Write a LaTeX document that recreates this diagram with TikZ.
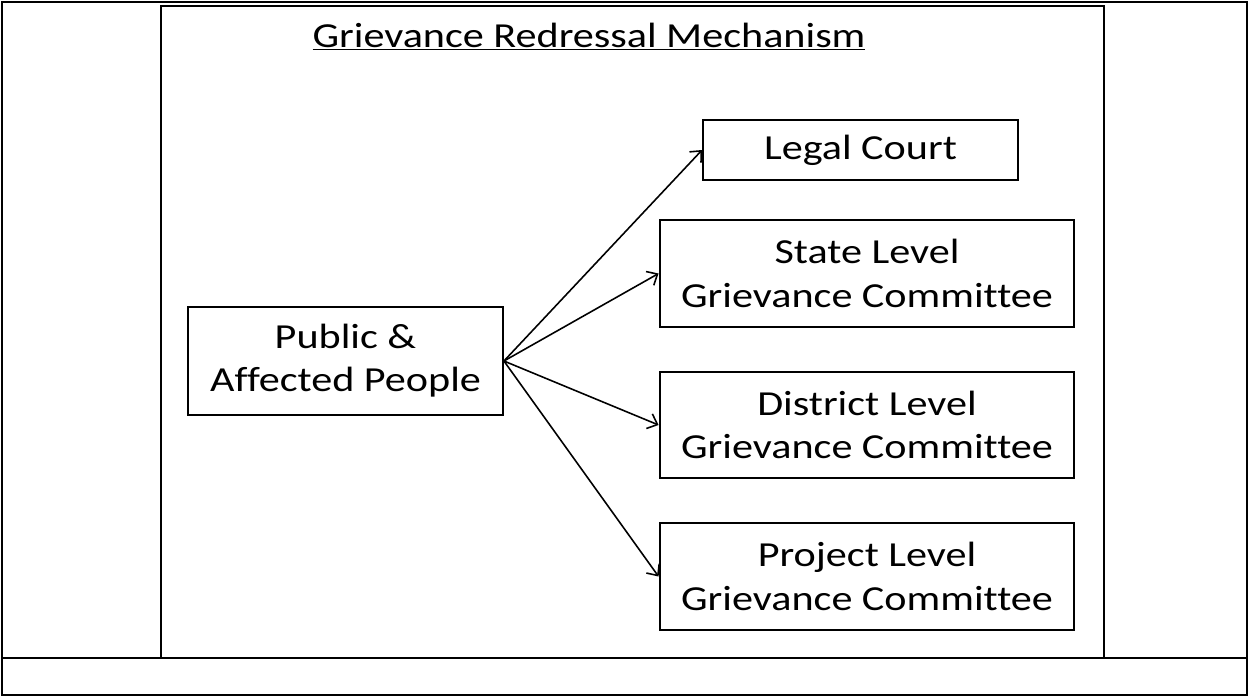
\documentclass[tikz,border=0pt]{standalone}
\usepackage{fontspec}
\setmainfont{Carlito}[FakeStretch=1.2, Ligatures=NoCommon]
\usetikzlibrary{arrows.meta}
\begin{document}
\begin{tikzpicture}[x=0.02cm, y=-0.02cm,
    nodes={font=\fontsize{20}{24.6}\selectfont, align=center, inner sep=0pt},
    box/.style={draw, line width=1.1pt, minimum width=8.3cm, minimum height=2.13cm},
    arr/.style={-{Straight Barb[length=5pt, width=9pt]}, line width=0.9pt}]
            \useasboundingbox (0,0) rectangle (1249,698);
            \draw[line width=1.6pt] (2,2) rectangle (1247,695);
            \draw[line width=1.6pt] (2,658) -- (1247,658);
            \draw[line width=1.2pt] (161,658) -- (161,6) -- (1104,6) -- (1104,658);
            \node[anchor=base] (title) at (589,47) {\underline{Grievance Redressal Mechanism}};
            \node[box, minimum width=6.3cm, minimum height=2.16cm] (pub) at (345.5,361) {Public \&\\Affected People};
            \node[box, minimum width=6.3cm, minimum height=1.2cm] (legal) at (860.5,150) {Legal Court};
            \node[box] (state) at (867,273.5) {State Level\\Grievance Committee};
            \node[box] (district) at (867,425) {District Level\\Grievance Committee};
            \node[box] (project) at (867,576.5) {Project Level\\Grievance Committee};
            \draw[arr] (pub.east) -- (legal.west);
            \draw[arr] (pub.east) -- (state.west);
            \draw[arr] (pub.east) -- (district.west);
            \draw[arr] (pub.east) -- (project.west);
\end{tikzpicture}
\end{document}
